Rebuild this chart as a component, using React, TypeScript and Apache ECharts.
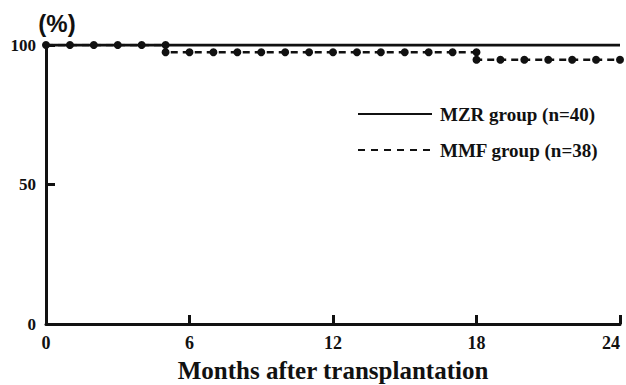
import React, { useEffect, useRef } from "react";
import * as echarts from "echarts";

const xTicks = [0, 6, 12, 18, 24];
const yTicks = [0, 50, 100];
const mzrData: [number, number][] = [
  [0, 100],
  [24, 100],
];
const mmfData: [number, number][] = [
  [0, 100], [1, 100], [2, 100], [3, 100], [4, 100], [5, 100],
  [5, 97.4], [6, 97.4], [7, 97.4], [8, 97.4], [9, 97.4], [10, 97.4], [11, 97.4],
  [12, 97.4], [13, 97.4], [14, 97.4], [15, 97.4], [16, 97.4], [17, 97.4], [18, 97.4],
  [18, 94.7], [19, 94.7], [20, 94.7], [21, 94.7], [22, 94.7], [23, 94.7], [24, 94.7],
];
const legendNames = ["MZR group (n=40)", "MMF group (n=38)"];
const xTitle = "Months after transplantation";
const yUnit = "(%)";

const serif = "Liberation Serif";
// inward tick height in y units (about 9px)
const tickLen = 3.2;

export default function App() {
  const ref = useRef<HTMLDivElement>(null);
  useEffect(() => {
    if (!ref.current) return;
    const chart = echarts.init(ref.current, undefined, { renderer: "svg" });
    chart.setOption({
      animation: false,
      backgroundColor: "#fff",
      grid: { left: 46, right: 6, top: 45, bottom: 61, containLabel: false, outerBoundsMode: "none" },
      xAxis: {
        type: "value",
        position: "bottom",
        min: 0,
        max: 24,
        interval: 6,
        axisLine: { show: true, onZero: false, lineStyle: { color: "#111", width: 3 } },
        axisTick: { show: true, inside: true, length: 9, lineStyle: { color: "#111", width: 3 } },
        axisLabel: {
          color: "#111",
          fontFamily: serif,
          fontWeight: "bold",
          fontSize: 18,
          margin: 10,
          alignMaxLabel: "right",
          formatter: (v: number) => (xTicks.includes(v) ? String(v) : ""),
        },
        splitLine: { show: false },
        name: xTitle,
        nameLocation: "middle",
        nameGap: 34,
        nameTextStyle: {
          color: "#111",
          fontFamily: serif,
          fontWeight: "bold",
          fontSize: 25,
          verticalAlign: "top",
        },
        z: 10,
      },
      yAxis: {
        type: "value",
        min: 0,
        max: 100,
        interval: 50,
        axisLine: { show: true, onZero: false, lineStyle: { color: "#111", width: 3 } },
        axisTick: { show: true, inside: true, length: 9, lineStyle: { color: "#111", width: 3 } },
        axisLabel: {
          color: "#111",
          fontFamily: serif,
          fontWeight: "bold",
          fontSize: 17,
          margin: 10,
          formatter: (v: number) => (yTicks.includes(v) ? String(v) : ""),
        },
        splitLine: { show: false },
      },
      series: [
        {
          name: legendNames[0],
          type: "line",
          data: mzrData,
          showSymbol: false,
          symbol: "none",
          lineStyle: { color: "#111", width: 3, type: "solid" },
          z: 2,
          markLine: {
            silent: true,
            symbol: "none",
            label: { show: false },
            lineStyle: { color: "#111", width: 3, type: "solid" },
            data: xTicks
              .filter((v) => v > 0)
              .map((v) => [{ coord: [v, 0] }, { coord: [v, tickLen] }]),
          },
        },
        {
          name: legendNames[1],
          type: "line",
          data: mmfData,
          symbol: "circle",
          symbolSize: 8,
          itemStyle: { color: "#111" },
          lineStyle: { color: "#111", width: 2.5, type: [7, 5] },
          z: 3,
        },
      ],
      graphic: [
        { type: "line", shape: { x1: 358, y1: 114, x2: 432, y2: 114 }, style: { stroke: "#111", lineWidth: 2 } },
        {
          type: "text", x: 440, y: 114,
          style: { text: legendNames[0], fill: "#111", fontFamily: serif, fontWeight: "bold", fontSize: 19, verticalAlign: "middle" },
        },
        { type: "line", shape: { x1: 358, y1: 150, x2: 432, y2: 150 }, style: { stroke: "#111", lineWidth: 2, lineDash: [7, 6] } },
        {
          type: "text", x: 440, y: 150,
          style: { text: legendNames[1], fill: "#111", fontFamily: serif, fontWeight: "bold", fontSize: 19, verticalAlign: "middle" },
        },
        {
          type: "text", x: 57, y: 23,
          style: { text: yUnit, fill: "#111", fontFamily: "Liberation Sans", fontWeight: "bold", fontSize: 24, align: "center", verticalAlign: "middle" },
        },
      ],
    });
    return () => chart.dispose();
  }, []);
  return <div ref={ref} style={{ width: 626, height: 385, position: "absolute", left: 0, top: 0 }} />;
}
